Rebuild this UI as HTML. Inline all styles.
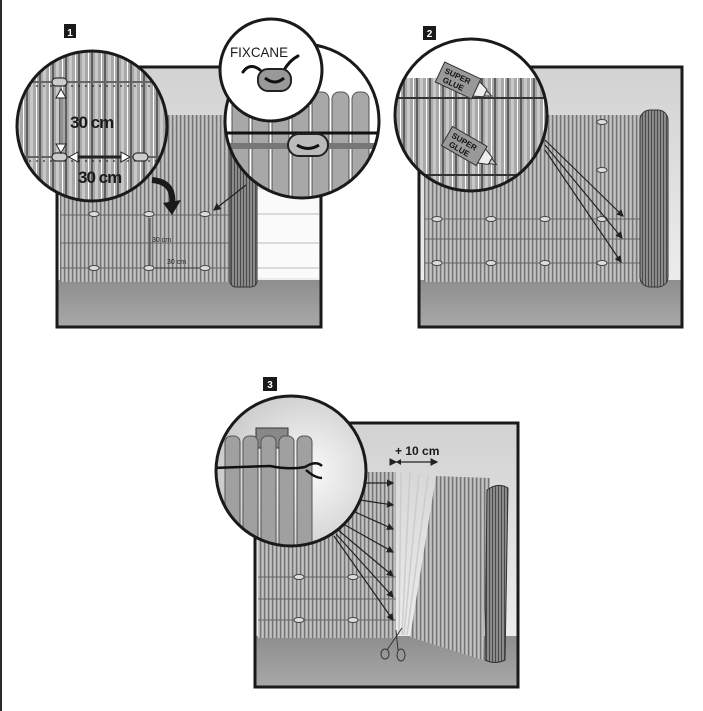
<!DOCTYPE html>
<html><head><meta charset="utf-8"><style>
html,body{margin:0;padding:0;background:#fff;}
svg{display:block;}
text{font-family:"Liberation Sans",sans-serif;}
</style></head><body>
<svg width="703" height="711" viewBox="0 0 703 711" xmlns="http://www.w3.org/2000/svg">
<defs>
<pattern id="reed" width="4" height="10" patternUnits="userSpaceOnUse">
<rect width="4" height="10" fill="#adadad"/><rect x="0" width="1.2" height="10" fill="#757575"/><rect x="2.4" width="0.8" height="10" fill="#d2d2d2"/>
</pattern>
<pattern id="reedBig" width="13" height="20" patternUnits="userSpaceOnUse">
<rect width="13" height="20" fill="#a8a8a8"/><rect x="0" width="2" height="20" fill="#5e5e5e"/><rect x="4" width="3" height="20" fill="#c8c8c8"/><rect x="10" width="1" height="20" fill="#fff"/>
</pattern>
<pattern id="roll" width="3" height="10" patternUnits="userSpaceOnUse">
<rect width="3" height="10" fill="#8a8a8a"/><rect width="1" height="10" fill="#4a4a4a"/>
</pattern>
<linearGradient id="sky" x1="0" y1="0" x2="0" y2="1"><stop offset="0" stop-color="#d2d2d2"/><stop offset="1" stop-color="#f2f2f2"/></linearGradient>
<linearGradient id="ground" x1="0" y1="0" x2="0" y2="1"><stop offset="0" stop-color="#8e8e8e"/><stop offset="1" stop-color="#a8a8a8"/></linearGradient>
<radialGradient id="cbg" cx="0.6" cy="0.5" r="0.6"><stop offset="0" stop-color="#fafafa"/><stop offset="1" stop-color="#c8c8c8"/></radialGradient>
<clipPath id="c1"><circle cx="92" cy="126" r="75"/></clipPath>
<clipPath id="c2"><circle cx="302" cy="121" r="77"/></clipPath>
<clipPath id="c4"><circle cx="471" cy="115" r="76"/></clipPath>
<clipPath id="c5"><circle cx="291" cy="471" r="75"/></clipPath>
<marker id="ah" markerWidth="6" markerHeight="6" refX="5" refY="3" orient="auto"><path d="M0,0 L6,3 L0,6 z" fill="#222"/></marker>
</defs>
<rect x="0" y="0" width="2" height="711" fill="#2a2a2a"/>

<!-- PANEL 1 -->
<rect x="64" y="24" width="12" height="14" fill="#1a1a1a"/><text x="70" y="36" font-size="10" font-weight="bold" fill="#fff" text-anchor="middle">1</text>
<rect x="57" y="67" width="264" height="260" fill="url(#sky)"/>
<rect x="57" y="280" width="264" height="47" fill="url(#ground)"/>
<rect x="257" y="190" width="62" height="88" fill="#fafafa"/>
<g stroke="#bbb" stroke-width="1"><line x1="257" y1="214" x2="319" y2="214"/><line x1="257" y1="243" x2="319" y2="243"/><line x1="257" y1="268" x2="319" y2="268"/></g>
<rect x="60" y="115" width="172" height="167" fill="url(#reed)"/>
<g stroke="#666" stroke-width="1"><line x1="60" y1="215" x2="232" y2="215"/><line x1="60" y1="243" x2="232" y2="243"/><line x1="60" y1="268" x2="232" y2="268"/></g>
<rect x="230" y="113" width="27" height="174" rx="6" fill="url(#roll)" stroke="#333" stroke-width="1"/>
<g fill="#ddd" stroke="#444" stroke-width="1"><ellipse cx="94" cy="214" rx="5" ry="2.5"/><ellipse cx="149" cy="214" rx="5" ry="2.5"/><ellipse cx="205" cy="214" rx="5" ry="2.5"/><ellipse cx="94" cy="268" rx="5" ry="2.5"/><ellipse cx="149" cy="268" rx="5" ry="2.5"/><ellipse cx="205" cy="268" rx="5" ry="2.5"/></g>
<line x1="150" y1="218" x2="150" y2="265" stroke="#333"/><line x1="155" y1="268" x2="199" y2="268" stroke="#333"/>
<text x="152" y="242" font-size="7" fill="#222">30 cm</text><text x="167" y="264" font-size="7" fill="#222">30 cm</text>
<path d="M152,180 Q175,182 172,205" stroke="#1a1a1a" stroke-width="6" fill="none"/><path d="M163,203 L172,215 L181,200 z" fill="#1a1a1a"/>
<line x1="246" y1="185" x2="214" y2="210" stroke="#222" stroke-width="1.3" marker-end="url(#ah)"/>
<rect x="57" y="67" width="264" height="260" fill="none" stroke="#1a1a1a" stroke-width="3"/>
<!-- circle 1 -->
<g clip-path="url(#c1)"><rect x="15" y="48" width="155" height="160" fill="url(#reedBig)"/>
<line x1="15" y1="82" x2="170" y2="82" stroke="#666" stroke-width="2"/><line x1="15" y1="157" x2="170" y2="157" stroke="#666" stroke-width="2"/>
<line x1="15" y1="86" x2="170" y2="86" stroke="#111" stroke-dasharray="2,5"/><line x1="15" y1="161" x2="170" y2="161" stroke="#111" stroke-dasharray="2,5"/>
<g fill="#ccc" stroke="#333" stroke-width="1.2"><rect x="52" y="78" width="15" height="8" rx="4"/><rect x="52" y="153" width="15" height="8" rx="4"/><rect x="133" y="153" width="15" height="8" rx="4"/></g>
<line x1="61" y1="92" x2="61" y2="150" stroke="#222" stroke-width="3"/><line x1="61" y1="93" x2="61" y2="149" stroke="#fff" stroke-width="1"/>
<path d="M56,98 L61,89 L66,98 z M56,144 L61,153 L66,144 z" fill="#fff" stroke="#222"/>
<line x1="74" y1="157" x2="125" y2="157" stroke="#222" stroke-width="3"/>
<path d="M78,152 L69,157 L78,162 z M121,152 L130,157 L121,162 z" fill="#fff" stroke="#222"/>
<text x="70" y="128" font-size="17" font-weight="bold" fill="#1a1a1a" letter-spacing="-1">30 cm</text>
<text x="78" y="183" font-size="17" font-weight="bold" fill="#1a1a1a" letter-spacing="-1">30 cm</text></g>
<circle cx="92" cy="126" r="75" fill="none" stroke="#1a1a1a" stroke-width="3"/>
<!-- circle 2 big -->
<g clip-path="url(#c2)"><rect x="220" y="40" width="160" height="165" fill="#fff"/>
<g fill="#a8a8a8" stroke="#555"><rect x="232" y="92" width="17" height="115" rx="7"/><rect x="252" y="92" width="17" height="115" rx="7"/><rect x="272" y="92" width="17" height="115" rx="7"/><rect x="292" y="92" width="17" height="115" rx="7"/><rect x="312" y="92" width="17" height="115" rx="7"/><rect x="332" y="92" width="17" height="115" rx="7"/><rect x="352" y="92" width="17" height="115" rx="7"/></g>
<line x1="220" y1="133" x2="380" y2="133" stroke="#111" stroke-width="3"/><rect x="220" y="143" width="160" height="6" fill="#777"/>
<rect x="288" y="134" width="40" height="22" rx="11" fill="#bbb" stroke="#222" stroke-width="2"/><path d="M297,145 Q308,152 319,145" stroke="#111" stroke-width="3" fill="none"/></g>
<circle cx="302" cy="121" r="77" fill="none" stroke="#1a1a1a" stroke-width="3"/>
<!-- fixcane circle -->
<circle cx="271" cy="70" r="51" fill="#fff" stroke="#1a1a1a" stroke-width="3"/>
<text x="230" y="57" font-size="14" fill="#1a1a1a" textLength="58" lengthAdjust="spacingAndGlyphs">FIXCANE</text>
<path d="M243,72 Q250,62 260,70 M284,70 Q290,60 298,56" stroke="#111" stroke-width="3" fill="none" stroke-linecap="round"/>
<rect x="258" y="69" width="33" height="22" rx="10" fill="#999" stroke="#222" stroke-width="2"/><path d="M265,78 Q275,86 284,78" stroke="#111" stroke-width="3" fill="none"/>

<!-- PANEL 2 -->
<rect x="423" y="26" width="13" height="14" fill="#1a1a1a"/><text x="429.5" y="37" font-size="10" font-weight="bold" fill="#fff" text-anchor="middle">2</text>
<rect x="419" y="67" width="263" height="260" fill="url(#sky)"/>
<rect x="419" y="280" width="263" height="47" fill="url(#ground)"/>
<rect x="424" y="115" width="218" height="167" fill="url(#reed)"/>
<g stroke="#666"><line x1="424" y1="219" x2="668" y2="219"/><line x1="424" y1="239" x2="668" y2="239"/><line x1="424" y1="263" x2="668" y2="263"/></g>
<g fill="#ddd" stroke="#444"><ellipse cx="437" cy="219" rx="5" ry="2.5"/><ellipse cx="491" cy="219" rx="5" ry="2.5"/><ellipse cx="545" cy="219" rx="5" ry="2.5"/><ellipse cx="602" cy="219" rx="5" ry="2.5"/><ellipse cx="437" cy="263" rx="5" ry="2.5"/><ellipse cx="491" cy="263" rx="5" ry="2.5"/><ellipse cx="545" cy="263" rx="5" ry="2.5"/><ellipse cx="602" cy="263" rx="5" ry="2.5"/><ellipse cx="602" cy="122" rx="5" ry="2.5"/><ellipse cx="602" cy="170" rx="5" ry="2.5"/></g>
<rect x="640" y="110" width="28" height="177" rx="10" fill="url(#roll)" stroke="#333"/>
<g stroke="#222" stroke-width="1.2" marker-end="url(#ah)"><line x1="545" y1="140" x2="623" y2="216"/><line x1="545" y1="145" x2="622" y2="238"/><line x1="545" y1="150" x2="621" y2="262"/></g>
<rect x="419" y="67" width="263" height="260" fill="none" stroke="#1a1a1a" stroke-width="3"/>
<g clip-path="url(#c4)"><rect x="390" y="36" width="165" height="160" fill="#fff"/><rect x="390" y="78" width="165" height="120" fill="url(#reedBig)"/>
<line x1="390" y1="98" x2="555" y2="98" stroke="#333" stroke-width="2"/><line x1="390" y1="175" x2="555" y2="175" stroke="#333" stroke-width="2"/>
<g transform="translate(440,72) rotate(25)"><rect x="0" y="-11" width="40" height="22" fill="#999" stroke="#333"/><path d="M40,-8 L50,-4 L50,4 L40,8z" fill="#eee" stroke="#333"/><path d="M50,-3 L57,0 L50,3z" fill="#ccc" stroke="#333"/><text x="4" y="-1" font-size="8" font-weight="bold" fill="#111">SUPER</text><text x="6" y="8" font-size="8" font-weight="bold" fill="#111">GLUE</text></g>
<g transform="translate(447,136) rotate(30)"><rect x="0" y="-11" width="40" height="22" fill="#999" stroke="#333"/><path d="M40,-8 L50,-4 L50,4 L40,8z" fill="#eee" stroke="#333"/><path d="M50,-3 L57,0 L50,3z" fill="#ccc" stroke="#333"/><text x="4" y="-1" font-size="8" font-weight="bold" fill="#111">SUPER</text><text x="6" y="8" font-size="8" font-weight="bold" fill="#111">GLUE</text></g></g>
<circle cx="471" cy="115" r="76" fill="none" stroke="#1a1a1a" stroke-width="3"/>

<!-- PANEL 3 -->
<rect x="263" y="377" width="14" height="14" fill="#1a1a1a"/><text x="270" y="388" font-size="10" font-weight="bold" fill="#fff" text-anchor="middle">3</text>
<rect x="255" y="423" width="263" height="264" fill="url(#sky)"/>
<rect x="255" y="636" width="263" height="51" fill="url(#ground)"/>
<rect x="258" y="472" width="138" height="166" fill="url(#reed)"/>
<g stroke="#666"><line x1="258" y1="577" x2="396" y2="577"/><line x1="258" y1="599" x2="396" y2="599"/><line x1="258" y1="620" x2="396" y2="620"/></g>
<g fill="#ddd" stroke="#444"><ellipse cx="299" cy="577" rx="5" ry="2.5"/><ellipse cx="353" cy="577" rx="5" ry="2.5"/><ellipse cx="299" cy="620" rx="5" ry="2.5"/><ellipse cx="353" cy="620" rx="5" ry="2.5"/></g>
<g stroke="#ccc" stroke-width="1.5"><line x1="401" y1="472" x2="399" y2="635"/><line x1="410" y1="472" x2="402" y2="635"/><line x1="419" y1="474" x2="404" y2="635"/><line x1="428" y1="476" x2="407" y2="635"/></g>
<path d="M436,476 L490,478 L483,660 L410,637 z" fill="url(#reed)"/>
<path d="M487,490 Q498,482 508,488 L505,660 Q495,665 485,660 z" fill="url(#roll)" stroke="#333"/>
<g stroke="#222" stroke-width="1.2" marker-end="url(#ah)"><line x1="365" y1="483" x2="393" y2="483"/><line x1="360" y1="500" x2="393" y2="505"/><line x1="355" y1="512" x2="393" y2="529"/><line x1="345" y1="525" x2="393" y2="552"/><line x1="338" y1="530" x2="393" y2="576"/><line x1="336" y1="534" x2="393" y2="597"/><line x1="334" y1="536" x2="393" y2="620"/></g>
<line x1="396" y1="462" x2="437" y2="462" stroke="#222" stroke-width="1.3" marker-end="url(#ah)" marker-start="url(#ah)"/>
<path d="M401,459 L396,462 L401,465z" fill="#222"/>
<text x="395" y="455" font-size="12" font-weight="bold" fill="#1a1a1a">+ 10 cm</text>
<g stroke="#333" fill="none"><ellipse cx="385" cy="654" rx="4" ry="5"/><ellipse cx="401" cy="655" rx="4" ry="6"/><line x1="387" y1="650" x2="402" y2="628"/><line x1="398" y1="650" x2="396" y2="630"/></g>
<rect x="255" y="423" width="263" height="264" fill="none" stroke="#1a1a1a" stroke-width="3"/>
<g clip-path="url(#c5)"><rect x="212" y="392" width="160" height="160" fill="url(#cbg)"/>
<rect x="256" y="428" width="32" height="20" fill="#888" stroke="#333"/>
<g fill="#a0a0a0" stroke="#555"><rect x="225" y="436" width="15" height="120" rx="6"/><rect x="243" y="436" width="15" height="120" rx="6"/><rect x="261" y="436" width="15" height="120" rx="6"/><rect x="279" y="436" width="15" height="120" rx="6"/><rect x="297" y="436" width="15" height="120" rx="6"/></g>
<path d="M212,468 L270,466 Q290,470 305,467 Q316,460 322,466 M306,470 Q315,478 322,478" stroke="#111" stroke-width="2.5" fill="none"/></g>
<circle cx="291" cy="471" r="75" fill="none" stroke="#1a1a1a" stroke-width="3"/>
</svg>
</body></html>
